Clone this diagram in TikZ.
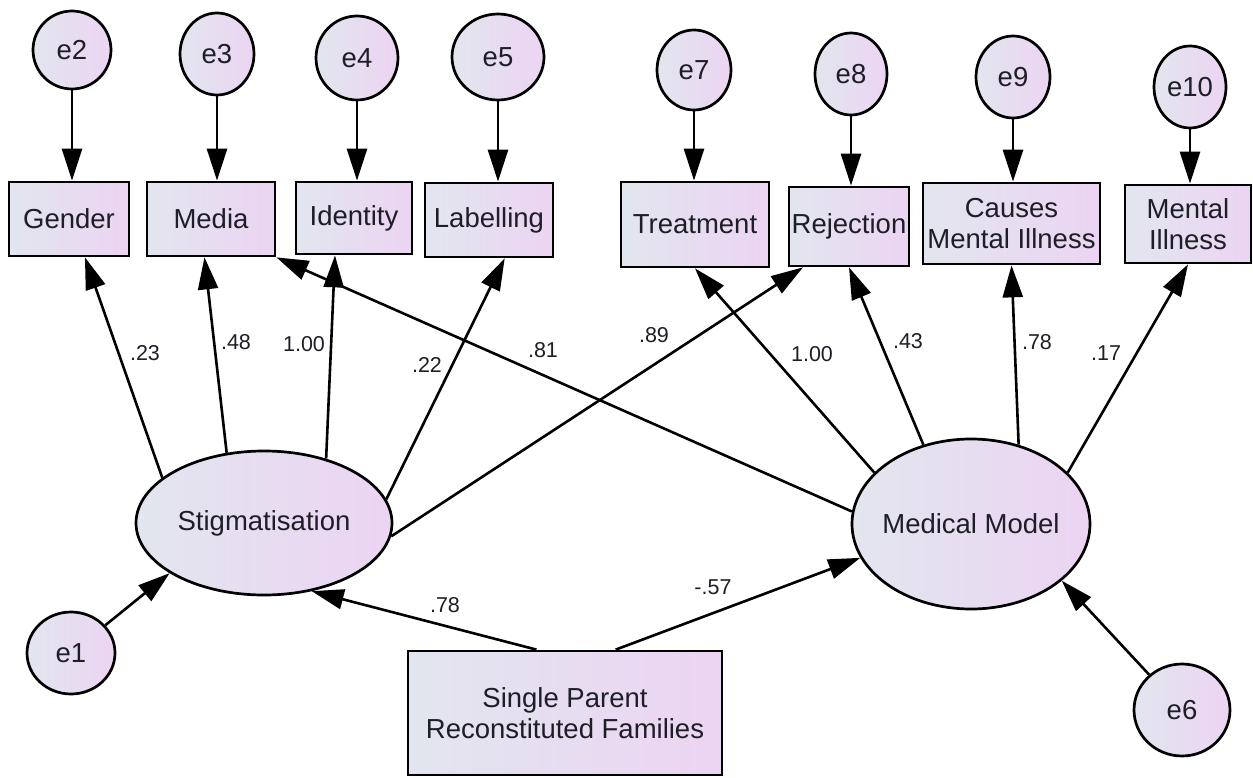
\documentclass[tikz,border=0pt]{standalone}
\usepackage{fontspec}
\setmainfont{Liberation Sans}
\usetikzlibrary{arrows.meta,shapes.geometric,calc}
\definecolor{lc}{RGB}{226,230,238}
\definecolor{rc}{RGB}{236,212,243}
\definecolor{txt}{RGB}{30,30,38}
\begin{document}
\begin{tikzpicture}[x=1pt,y=-1pt,
  obs/.style={draw=black, line width=2.7pt, left color=lc, right color=rc, rectangle, inner sep=0pt, align=center, font=\fontsize{27.5}{31}\selectfont, text=txt},
  lat/.style={draw=black, line width=2.7pt, left color=lc, right color=rc, ellipse, inner sep=0pt, font=\fontsize{27.5}{31}\selectfont, text=txt},
  arr/.style={line width=2.6pt, -{Triangle[length=32pt,width=20pt]}},
  coef/.style={font=\fontsize{21.5}{24}\selectfont, text=txt, inner sep=0pt}
]
\useasboundingbox (0,0) rectangle (1253,778);

% observed boxes
\node[obs, minimum width=120pt, minimum height=74pt] (gender) at (69,219) {Gender};
\node[obs, minimum width=128pt, minimum height=74pt] (media) at (211,219) {Media};
\node[obs, minimum width=116pt, minimum height=72pt] (identity) at (354,218) {Identity};
\node[obs, minimum width=128pt, minimum height=74pt] (label) at (489,220) {Labelling};
\node[obs, minimum width=148pt, minimum height=85pt] (treat) at (695,224.5) {Treatment};
\node[obs, minimum width=120pt, minimum height=79pt] (reject) at (849,226.5) {Rejection};
\node[obs, minimum width=177pt, minimum height=81pt] (causes) at (1011.5,223.5) {Causes\\Mental Illness};
\node[obs, minimum width=126pt, minimum height=78pt] (mental) at (1188,224) {Mental\\Illness};
\node[obs, minimum width=314pt, minimum height=124pt] (sp) at (565,713) {Single Parent\\Reconstituted Families};

% error terms
\node[lat, minimum width=78pt, minimum height=78pt] (e2) at (72,50) {\makebox[0pt]{e2}};
\node[lat, minimum width=74pt, minimum height=82pt] (e3) at (217,54) {\makebox[0pt]{e3}};
\node[lat, minimum width=82pt, minimum height=84pt] (e4) at (357,58) {\makebox[0pt]{e4}};
\node[lat, minimum width=92pt, minimum height=86pt] (e5) at (498,57) {\makebox[0pt]{e5}};
\node[lat, minimum width=74pt, minimum height=80pt] (e7) at (694,70) {\makebox[0pt]{e7}};
\node[lat, minimum width=72pt, minimum height=82pt] (e8) at (851,74) {\makebox[0pt]{e8}};
\node[lat, minimum width=74pt, minimum height=82pt] (e9) at (1013,77) {\makebox[0pt]{e9}};
\node[lat, minimum width=72pt, minimum height=82pt] (e10) at (1190,87) {\makebox[0pt]{e10}};
\node[lat, minimum width=88pt, minimum height=82pt] (e1) at (71,653) {\makebox[0pt]{e1}};
\node[lat, minimum width=96pt, minimum height=92pt] (e6) at (1182,710) {\makebox[0pt]{e6}};

% latent variables
\node[lat, minimum width=256pt, minimum height=144pt] (stig) at (264,523) {\makebox[0pt]{Stigmatisation}};
\node[lat, minimum width=238pt, minimum height=170pt] (mm) at (971,524) {\makebox[0pt]{Medical Model}};

% error arrows
\draw[arr] (e2) -- (e2 |- gender.north);
\draw[arr] (e3) -- (e3 |- media.north);
\draw[arr] (e4) -- (e4 |- identity.north);
\draw[arr] (e5) -- (e5 |- label.north);
\draw[arr] (e7) -- (e7 |- treat.north);
\draw[arr] (e8) -- (e8 |- reject.north);
\draw[arr] (e9) -- (e9 |- causes.north);
\draw[arr] (e10) -- (e10 |- mental.north);
\draw[arr] (e1) -- (stig.208);
\draw[arr] (e6) -- (mm.-32);

% loadings
\draw[arr] (stig.156) -- ($(gender.south west)!0.63!(gender.south east)$);
\draw[arr] (stig.118) -- ($(media.south west)!0.45!(media.south east)$);
\draw[arr] (stig.46) -- ($(identity.south west)!0.34!(identity.south east)$);
\draw[arr] (stig.11) -- ($(label.south west)!0.62!(label.south east)$);
\draw[arr] (stig.-6) -- ($(reject.south west)!0.125!(reject.south east)$);
\draw[arr] (mm.174) -- (media.south east);
\draw[arr] (mm.152) -- (treat.south);
\draw[arr] (mm.121) -- (reject.south);
\draw[arr] (mm.59) -- (causes.south);
\draw[arr] (mm.28) -- (mental.south);

% regressions
\draw[arr] ($(sp.north west)!0.41!(sp.north east)$) -- (stig.-55);
\draw[arr] ($(sp.north west)!0.66!(sp.north east)$) -- (mm.197);

% coefficients
\node[coef] (c1) at (145,353) {.23};
\node[coef] (c2) at (236,342) {.48};
\node[coef] (c3) at (304,344) {1.00};
\node[coef] (c4) at (427,365) {.22};
\node[coef] (c5) at (543,350) {.81};
\node[coef] (c6) at (654,335) {.89};
\node[coef] (c7) at (812,354) {1.00};
\node[coef] (c8) at (908,341) {.43};
\node[coef] (c9) at (1037,342) {.78};
\node[coef] (c10) at (1106,353) {.17};
\node[coef] (c11) at (445,605) {.78};
\node[coef] (c12) at (713,587) {-.57};
\end{tikzpicture}
\end{document}
